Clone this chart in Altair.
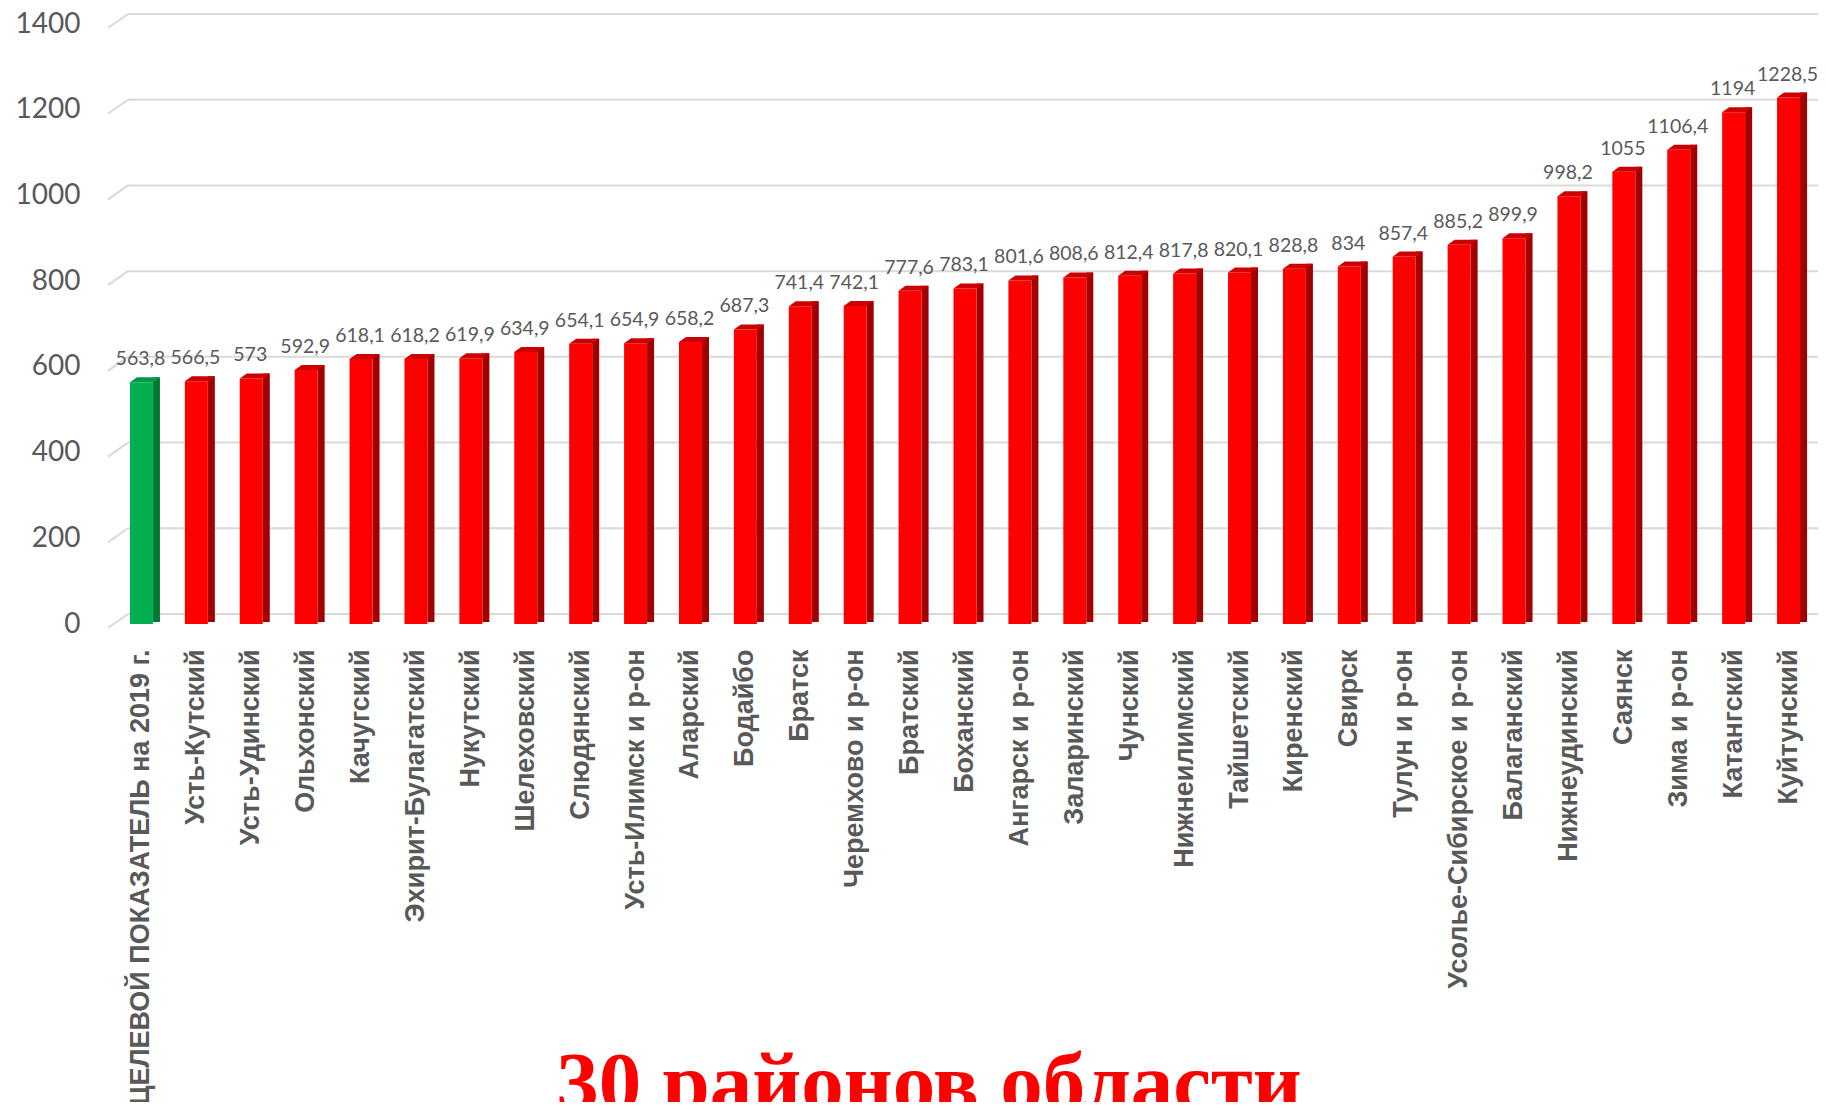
import altair as alt
import pandas as pd

categories = [
    "ЦЕЛЕВОЙ ПОКАЗАТЕЛЬ на 2019 г.", "Усть-Кутский", "Усть-Удинский", "Ольхонский",
    "Качугский", "Эхирит-Булагатский", "Нукутский", "Шелеховский", "Слюдянский",
    "Усть-Илимск и р-он", "Аларский", "Бодайбо", "Братск", "Черемхово и р-он",
    "Братский", "Боханский", "Ангарск и р-он", "Заларинский", "Чунский",
    "Нижнеилимский", "Тайшетский", "Киренский", "Свирск", "Тулун и р-он",
    "Усолье-Сибирское и р-он", "Балаганский", "Нижнеудинский", "Саянск",
    "Зима и р-он", "Катангский", "Куйтунский",
]
values = [
    563.8, 566.5, 573, 592.9, 618.1, 618.2, 619.9, 634.9, 654.1, 654.9, 658.2,
    687.3, 741.4, 742.1, 777.6, 783.1, 801.6, 808.6, 812.4, 817.8, 820.1, 828.8,
    834, 857.4, 885.2, 899.9, 998.2, 1055, 1106.4, 1194, 1228.5,
]
y_ticks = [0, 200, 400, 600, 800, 1000, 1200, 1400]
title_text = "30 районов области"


def fmt(v):
    s = f"{v:.1f}"
    if s.endswith(".0"):
        s = s[:-2]
    return s.replace(".", ",")


df = pd.DataFrame({
    "cat": categories,
    "value": values,
    "label": [fmt(v) for v in values],
    "kind": ["target"] + ["district"] * (len(categories) - 1),
})
grid = pd.DataFrame({"value": y_ticks})
title_df = pd.DataFrame({"t": [title_text]})

W, H = 1702, 600
GRID = "#d9d9d9"
LABEL = "#595959"

yscale = alt.Scale(domain=[0, 1400], nice=False, zero=True)
xscale = alt.Scale(paddingInner=0, paddingOuter=0)

x_axis = alt.Axis(
    labelAngle=-90, labelFont="Liberation Sans", labelFontWeight="bold",
    labelFontSize=27, labelColor=LABEL, labelPadding=25, labelOffset=6,
    ticks=False, domain=False, grid=False, labelLimit=1000, title=None,
)
y_axis = alt.Axis(
    values=y_ticks, format="d", labelFont="Lato", labelFontSize=28,
    labelColor=LABEL, labelPadding=28, ticks=False, domain=False, grid=False,
    title=None,
)

X = alt.X("cat:N", sort=categories, scale=xscale, axis=x_axis, title=None)
Y = alt.Y("value:Q", scale=yscale, axis=y_axis, title=None)

back_grid = alt.Chart(grid).mark_rule(color=GRID, strokeWidth=2, yOffset=-10).encode(
    y=Y, x=alt.value(20), x2=alt.value(W + 16),
)
side_grid = alt.Chart(grid).mark_rule(color=GRID, strokeWidth=2, yOffset=4, y2Offset=-10).encode(
    y=Y, y2=alt.Y2("value"), x=alt.value(0), x2=alt.value(20),
)

is_target = alt.datum.kind == "target"

side = alt.Chart(df).mark_bar(size=7, xOffset=21, yOffset=-5, y2Offset=-2).encode(
    x=X, y=Y, y2=alt.datum(0),
    color=alt.condition(is_target, alt.value("#007a33"), alt.value("#a20000")),
)
front = alt.Chart(df).mark_bar(size=23, xOffset=6).encode(
    x=X, y=Y, y2=alt.datum(0),
    color=alt.condition(is_target, alt.value("#00b050"), alt.value("#ff0000")),
)
top_path = "M-0.575,0L0.575,0L0.925,-0.25L-0.225,-0.25Z"
top = alt.Chart(df).mark_point(
    shape=top_path, filled=True, size=1600, opacity=1, strokeWidth=0, xOffset=6
).encode(
    x=X, y=Y,
    color=alt.condition(is_target, alt.value("#009a44"), alt.value("#cc0000")),
)
labels = alt.Chart(df).mark_text(
    font="Lato", fontSize=19.5, color=LABEL, dy=-17, baseline="alphabetic",
    align="center", xOffset=5,
).encode(x=X, y=Y, text="label:N")
title = alt.Chart(title_df).mark_text(
    font="Liberation Serif", fontWeight="bold", fontSize=85, color="#ff0000",
    align="center", baseline="alphabetic",
).encode(x=alt.value(821), y=alt.value(1087), text="t:N")

chart = alt.layer(back_grid, side_grid, side, front, top, labels, title).properties(
    width=W, height=H,
    autosize=alt.AutoSizeParams(type="none"),
    padding={"left": 100, "top": 16, "right": 8, "bottom": 478},
    background="white",
).configure_view(stroke=None)

chart.save("out.html", embed_options={"renderer": "svg", "actions": False})
